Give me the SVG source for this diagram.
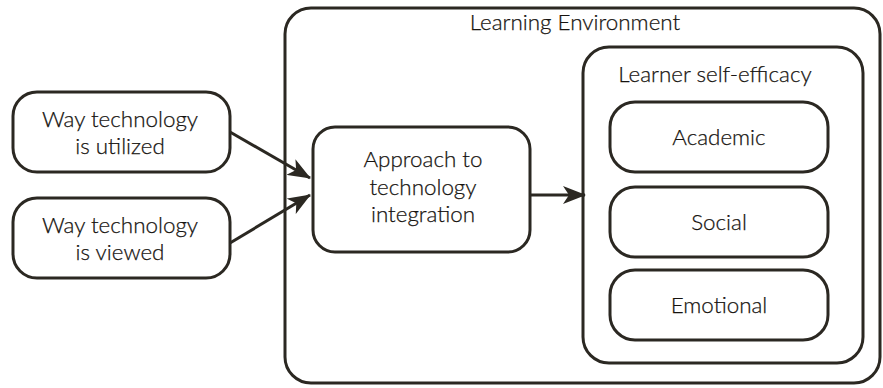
<svg xmlns="http://www.w3.org/2000/svg" width="883" height="388" viewBox="0 0 883 388">
  <style>
    .box { fill: #ffffff; stroke: #2b2822; stroke-width: 3; }
    .lbl { font-family: Lato, "Noto Sans", sans-serif; font-size: 22.4px; font-weight: 300; fill: #16130f; stroke: #16130f; stroke-width: 0.25; text-anchor: middle; }
    .edge { stroke: #2b2822; stroke-width: 3; fill: none; marker-end: url(#arrow); }
  </style>
  <defs>
    <!-- barbed arrowhead with a notched back -->
    <marker id="arrow" viewBox="0 0 23 18" refX="22" refY="9" markerWidth="23" markerHeight="18" markerUnits="userSpaceOnUse" orient="auto">
      <path d="M0,0 L23,9 L0,18 L6,9 Z" fill="#2b2822"/>
    </marker>
  </defs>

  <g id="learning-environment">
    <rect class="box" x="285" y="8" width="595" height="375" rx="26"/>
    <text class="lbl" x="575" y="30">Learning Environment</text>
  </g>

  <g id="way-utilized">
    <rect class="box" x="13" y="92" width="217" height="80" rx="24"/>
    <text class="lbl" x="120" y="127">Way technology</text>
    <text class="lbl" x="120" y="154">is utilized</text>
  </g>

  <g id="way-viewed">
    <rect class="box" x="13" y="198" width="217" height="80" rx="24"/>
    <text class="lbl" x="120" y="233">Way technology</text>
    <text class="lbl" x="120" y="260">is viewed</text>
  </g>

  <g id="approach">
    <rect class="box" x="313" y="127" width="217" height="125" rx="22"/>
    <text class="lbl" x="423" y="167">Approach to</text>
    <text class="lbl" x="423" y="195">technology</text>
    <text class="lbl" x="423" y="222">integration</text>
  </g>

  <g id="self-efficacy">
    <rect class="box" x="583" y="47" width="280" height="316" rx="26"/>
    <text class="lbl" x="715" y="82">Learner self-efficacy</text>
  </g>

  <g id="academic">
    <rect class="box" x="610" y="102" width="218" height="70" rx="25"/>
    <text class="lbl" x="719" y="145">Academic</text>
  </g>

  <g id="social">
    <rect class="box" x="610" y="187" width="218" height="70" rx="25"/>
    <text class="lbl" x="719" y="230">Social</text>
  </g>

  <g id="emotional">
    <rect class="box" x="610" y="270" width="218" height="70" rx="25"/>
    <text class="lbl" x="719" y="313">Emotional</text>
  </g>

  <g id="connectors">
    <line class="edge" x1="230" y1="132" x2="310" y2="178"/>
    <line class="edge" x1="230" y1="243" x2="310" y2="195"/>
    <line class="edge" x1="530" y1="195" x2="585" y2="195"/>
  </g>
</svg>
